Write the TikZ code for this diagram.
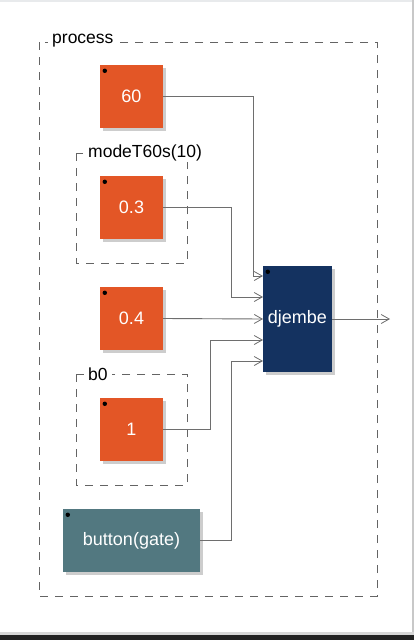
\documentclass[tikz,border=0pt]{standalone}
\usepackage{fontspec}
\setmainfont{Liberation Sans}
\usetikzlibrary{arrows.meta,calc}
\definecolor{numcol}{RGB}{227,86,38}
\definecolor{djcol}{RGB}{20,50,96}
\definecolor{btncol}{RGB}{82,120,128}
\definecolor{shadowcol}{RGB}{205,205,205}
\definecolor{wirecol}{RGB}{110,110,110}
\definecolor{groupcol}{RGB}{100,100,100}
\definecolor{frametop}{RGB}{232,234,236}
\definecolor{frameside}{RGB}{200,200,200}
\definecolor{framelight}{RGB}{215,215,215}
\definecolor{framedark}{RGB}{34,34,34}
\tikzset{
  blk/.style={draw=none, minimum width=63pt, minimum height=63pt, inner sep=0pt,
    text=white, font=\fontsize{18}{21}\selectfont},
  numblk/.style={blk, fill=numcol},
  wire/.style={draw=wirecol, line width=0.9pt},
  inarrow/.style={wire, -{Straight Barb[length=8pt,width=9pt,line width=0.8pt]}},
  grp/.style={draw=groupcol, line width=0.9pt, dash pattern=on 8pt off 7pt},
  grplabel/.style={fill=white, inner xsep=4pt, inner ysep=1pt, anchor=west,
    font=\fontsize{17.5}{20}\selectfont, text=black},
  pindot/.style={fill=black, draw=none}
}
\begin{document}
\begin{tikzpicture}[x=1pt,y=-1pt]
\useasboundingbox (0,0) rectangle (414,640);
% screenshot frame
\fill[white] (0,0) rectangle (414,640);
\fill[frametop] (0,0) rectangle (414,2);
\fill[frameside] (412,0) rectangle (414,634);
\fill[framelight] (0,632) rectangle (414,635);
\fill[framedark] (0,635) rectangle (414,640);

% groups
\draw[grp] (39,42) rectangle (377,596);
\node[grplabel] (lprocess) at (48,41) {process};
\draw[grp] (76,153) rectangle (187,263);
\node[grplabel] (lmode) at (84,153) {modeT60s(10)};
\draw[grp] (76,374) rectangle (187,485);
\node[grplabel] (lb0) at (84,374) {b0};

% shadows
\fill[shadowcol] (103,68) rectangle (166,131);
\fill[shadowcol] (103,179) rectangle (166,242);
\fill[shadowcol] (103,290) rectangle (166,353);
\fill[shadowcol] (103,401) rectangle (166,464);
\fill[shadowcol] (66,512) rectangle (203,575);
\fill[shadowcol] (266,269) rectangle (335,375);

% blocks
\node[numblk] (n60) at (131.5,96.5) {60};
\node[numblk] (n03) at (131.5,207.5) {0.3};
\node[numblk] (n04) at (131.5,318.5) {0.4};
\node[numblk] (n1) at (131.5,429.5) {1};
\node[blk, fill=btncol, minimum width=137pt] (btn) at (131.5,540.5) {button(gate)};
\node[blk, fill=djcol, minimum width=69pt, minimum height=106pt] (dj) at (297.5,319) {djembe};

% pin dots
\foreach \n in {n60,n03,n04,n1,btn,dj}
  \fill[pindot] ($(\n.north west)+(5,6)$) circle (2.2pt);

% input coordinates
\coordinate (in1) at (263,276);
\coordinate (in2) at (263,297);
\coordinate (in3) at (263,319);
\coordinate (in4) at (263,340);
\coordinate (in5) at (263,361);
\coordinate (out) at (390,319);
\coordinate (b1) at (253,96.5);
\coordinate (b2) at (231,207.5);
\coordinate (b4) at (210,429.5);
\coordinate (b5) at (231,540.5);

% wires
\draw[inarrow] (n60.east) -- (b1) |- (in1);
\draw[inarrow] (n03.east) -- (b2) |- (in2);
\draw[inarrow] (n04.east) -- (in3);
\draw[inarrow] (n1.east) -- (b4) |- (in4);
\draw[inarrow] (btn.east) -- (b5) |- (in5);
\draw[inarrow] (dj.east) -- (out);
\end{tikzpicture}
\end{document}
